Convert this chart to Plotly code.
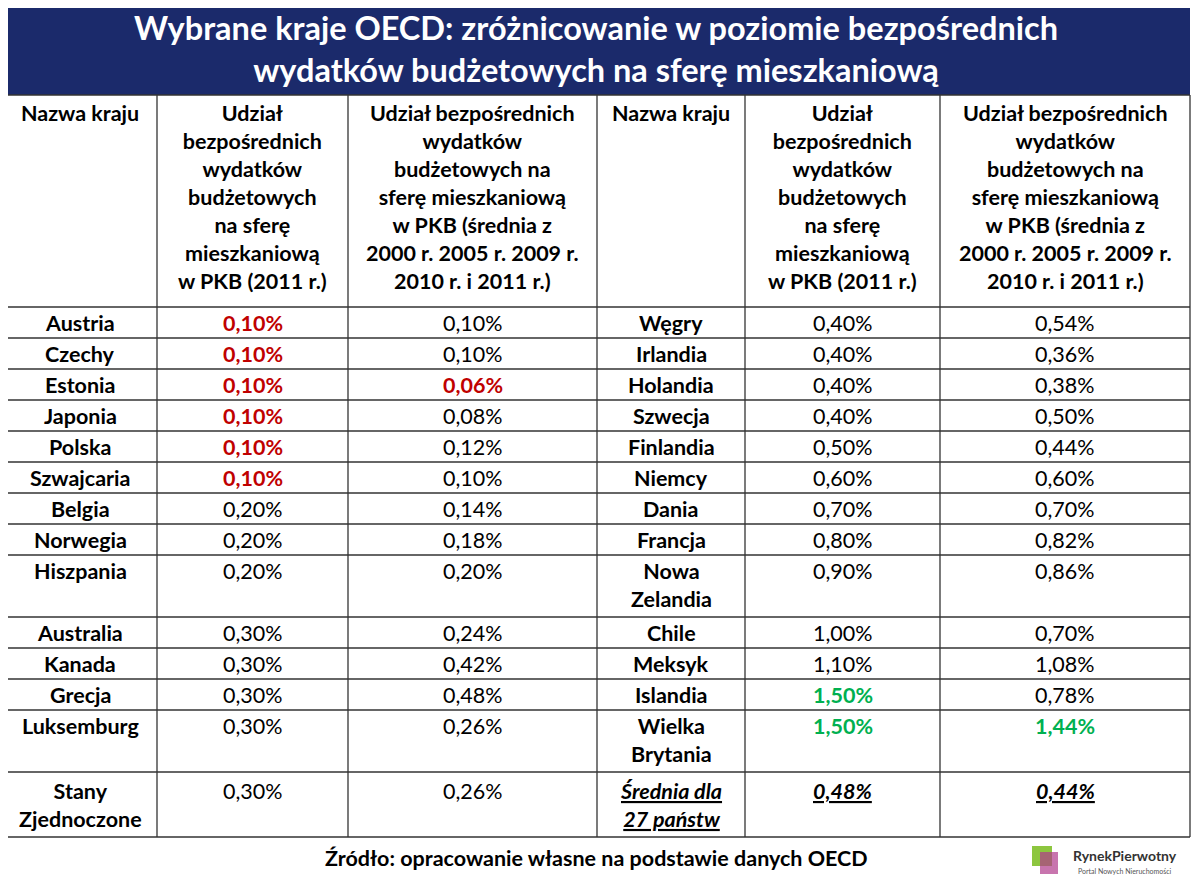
import plotly.graph_objects as go

title = "Wybrane kraje OECD: zróżnicowanie w poziomie bezpośrednich<br>wydatków budżetowych na sferę mieszkaniową"
headers = ["Nazwa kraju",
           "Udział<br>bezpośrednich<br>wydatków<br>budżetowych<br>na sferę<br>mieszkaniową<br>w PKB (2011 r.)",
           "Udział bezpośrednich<br>wydatków<br>budżetowych na<br>sferę mieszkaniową<br>w PKB (średnia z<br>2000 r. 2005 r. 2009 r.<br>2010 r. i 2011 r.)"]

left_countries = ["Austria", "Czechy", "Estonia", "Japonia", "Polska", "Szwajcaria", "Belgia", "Norwegia",
                  "Hiszpania", "Australia", "Kanada", "Grecja", "Luksemburg", "Stany<br>Zjednoczone"]
left_2011 = ["0,10%", "0,10%", "0,10%", "0,10%", "0,10%", "0,10%", "0,20%", "0,20%",
             "0,20%", "0,30%", "0,30%", "0,30%", "0,30%", "0,30%"]
left_avg = ["0,10%", "0,10%", "0,06%", "0,08%", "0,12%", "0,10%", "0,14%", "0,18%",
            "0,20%", "0,24%", "0,42%", "0,48%", "0,26%", "0,26%"]

right_countries = ["Węgry", "Irlandia", "Holandia", "Szwecja", "Finlandia", "Niemcy", "Dania", "Francja",
                   "Nowa<br>Zelandia", "Chile", "Meksyk", "Islandia", "Wielka<br>Brytania",
                   "<u><i>Średnia dla</i></u><br><u><i>27 państw</i></u>"]
right_2011 = ["0,40%", "0,40%", "0,40%", "0,40%", "0,50%", "0,60%", "0,70%", "0,80%",
              "0,90%", "1,00%", "1,10%", "1,50%", "1,50%", "0,48%"]
right_avg = ["0,54%", "0,36%", "0,38%", "0,50%", "0,44%", "0,60%", "0,70%", "0,82%",
             "0,86%", "0,70%", "1,08%", "0,78%", "1,44%", "0,44%"]

row_lines = [1, 1, 1, 1, 1, 1, 1, 1, 2, 1, 1, 1, 2, 2]

RED, GREEN = "#C00000", "#00B050"
FONT = "Lato"
FS = 21.5

cols = [3, 157, 348, 597, 745, 940, 1190]
fig = go.Figure()
fig.add_shape(type="rect", x0=3, x1=1190, y0=0, y1=95, fillcolor="#1B2A6B", line_width=0, layer="below")
fig.add_annotation(x=596, y=48, text="<b>" + title + "</b>", showarrow=False,
                   font=dict(family=FONT, size=32.5, color="white"))

# header
for i in range(6):
    cx = (cols[i] + cols[i + 1]) / 2
    fig.add_annotation(x=cx, y=98, yanchor="top", text="<b>" + headers[i % 3] + "</b>", showarrow=False,
                       font=dict(family=FONT, size=FS, color="black"))

ys = [307]
for n in row_lines:
    ys.append(ys[-1] + (31 if n == 1 else (62 if ys[-1] < 760 else 65)))

line = dict(color="#333", width=1.3)
for x in cols:
    fig.add_shape(type="line", x0=x, x1=x, y0=95, y1=ys[-1], line=line)
for y in [95] + ys:
    fig.add_shape(type="line", x0=cols[0], x1=cols[-1], y0=y, y1=y, line=line)

def val(v, color=None, avg=False):
    if avg:
        return "<b><i><u>" + v + "</u></i></b>"
    if color:
        return "<b><span style='color:%s'>%s</span></b>" % (color, v)
    return v

for r in range(len(left_countries)):
    y = ys[r] + 1
    last = r == len(left_countries) - 1
    cells = [
        "<b>" + left_countries[r] + "</b>",
        val(left_2011[r], RED if left_2011[r] == "0,10%" else None),
        val(left_avg[r], RED if left_avg[r] == "0,06%" else None),
        "<b>" + right_countries[r] + "</b>",
        val(right_2011[r], GREEN if right_2011[r] == "1,50%" else None, avg=last),
        val(right_avg[r], GREEN if right_avg[r] == "1,44%" else None, avg=last),
    ]
    for i, c in enumerate(cells):
        cx = (cols[i] + cols[i + 1]) / 2
        fig.add_annotation(x=cx, y=y + (3 if last else 0), yanchor="top", text=c, showarrow=False,
                           font=dict(family=FONT, size=FS, color="black"))

fig.add_annotation(x=596, y=858, text="<b>Źródło: opracowanie własne na podstawie danych OECD</b>",
                   showarrow=False, font=dict(family=FONT, size=FS, color="black"))
fig.add_annotation(x=1125, y=855, text="<b>RynekPierwotny</b>", showarrow=False,
                   font=dict(family=FONT, size=14, color="#333"))
fig.add_annotation(x=1125, y=871, text="Portal Nowych Nieruchomości", showarrow=False,
                   font=dict(family=FONT, size=7, color="#555"))
fig.add_shape(type="rect", x0=1032, x1=1052, y0=846, y1=866, fillcolor="#8DC63F", line_width=0)
fig.add_shape(type="rect", x0=1040, x1=1058, y0=852, y1=874, fillcolor="#B03A8C", opacity=0.7, line_width=0)

# page body has an 8px margin: shift ranges so coordinates match page pixels
fig.update_xaxes(range=[8, 1208], visible=False)
fig.update_yaxes(range=[892, 8], visible=False)
fig.update_layout(width=1200, height=884, margin=dict(l=0, r=0, t=0, b=0),
                  plot_bgcolor="white", paper_bgcolor="white", showlegend=False)
fig.write_html("out.html")
